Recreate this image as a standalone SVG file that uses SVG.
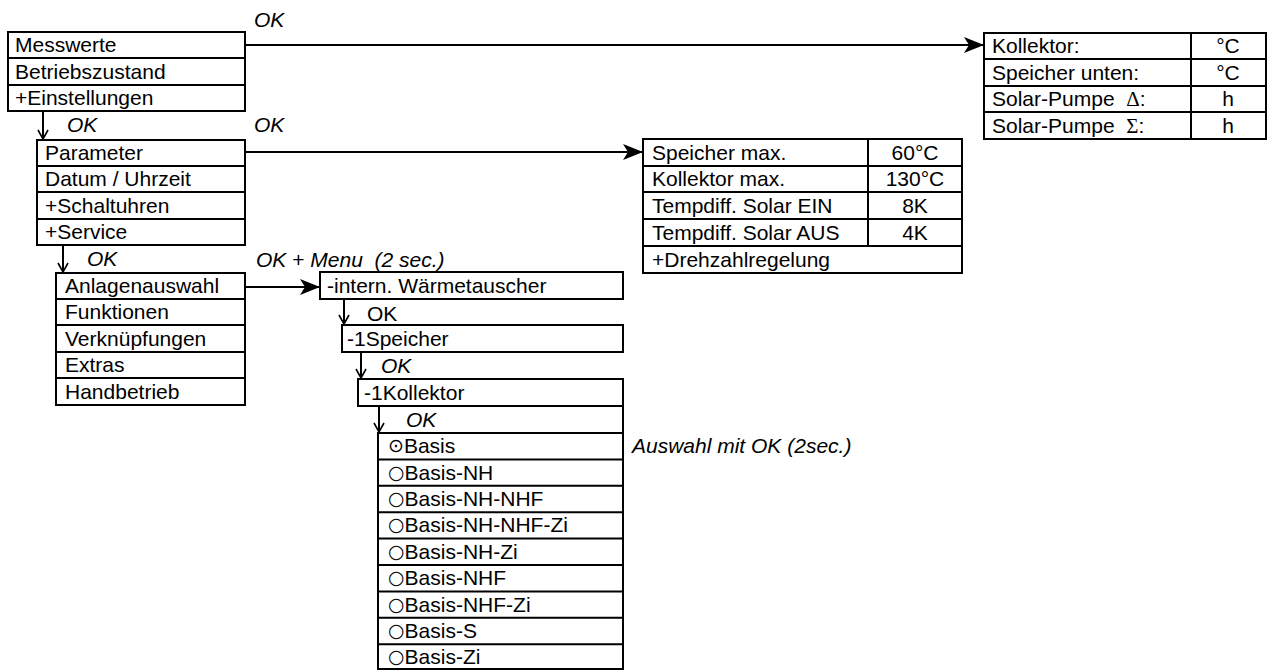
<svg xmlns="http://www.w3.org/2000/svg" width="1277" height="671" viewBox="0 0 1277 671">
<defs>
<style>
.b{fill:none;stroke:#000;stroke-width:2}
.l{stroke:#000;stroke-width:2;fill:none}
text{font-family:"Liberation Sans",Arial,sans-serif;font-size:21px;fill:#000}
.i{font-style:italic}
.c{text-anchor:middle}
.g{font-family:"Liberation Serif","DejaVu Serif",serif}
.s{font-family:"DejaVu Sans",sans-serif;font-size:19px}
</style>
<marker id="ah" viewBox="0 0 20 16" refX="20" refY="8" markerWidth="20" markerHeight="16" markerUnits="userSpaceOnUse" orient="auto">
<path d="M0,0 L20,8 L0,16 L5,8 Z" fill="#000"/>
</marker>
<marker id="dn" viewBox="0 0 12 12" refX="11" refY="6" markerWidth="12" markerHeight="12" markerUnits="userSpaceOnUse" orient="auto">
<path d="M2,1 L11,6 L2,11" fill="none" stroke="#000" stroke-width="1.6"/>
</marker>
</defs>
<rect width="1277" height="671" fill="#fff"/>

<g id="menu-main">
<rect class="b" x="8" y="32" width="237" height="79"/>
<line class="l" x1="8" y1="58" x2="245" y2="58"/>
<line class="l" x1="8" y1="85" x2="245" y2="85"/>
<text x="15" y="52">Messwerte</text>
<text x="15" y="79">Betriebszustand</text>
<text x="15" y="105">+Einstellungen</text>
</g>

<g id="menu-einstellungen">
<rect class="b" x="37" y="140" width="208" height="105"/>
<line class="l" x1="37" y1="166" x2="245" y2="166"/>
<line class="l" x1="37" y1="192" x2="245" y2="192"/>
<line class="l" x1="37" y1="219" x2="245" y2="219"/>
<text x="45" y="160">Parameter</text>
<text x="45" y="186">Datum / Uhrzeit</text>
<text x="45" y="213">+Schaltuhren</text>
<text x="45" y="239">+Service</text>
</g>

<g id="menu-service">
<rect class="b" x="56" y="273" width="189" height="132"/>
<line class="l" x1="56" y1="299" x2="245" y2="299"/>
<line class="l" x1="56" y1="325" x2="245" y2="325"/>
<line class="l" x1="56" y1="352" x2="245" y2="352"/>
<line class="l" x1="56" y1="378" x2="245" y2="378"/>
<text x="65" y="293">Anlagenauswahl</text>
<text x="65" y="319">Funktionen</text>
<text x="65" y="346">Verknüpfungen</text>
<text x="65" y="372">Extras</text>
<text x="65" y="399">Handbetrieb</text>
</g>

<g id="table-messwerte">
<rect class="b" x="984" y="33" width="282" height="106"/>
<line class="l" x1="984" y1="59" x2="1266" y2="59"/>
<line class="l" x1="984" y1="86" x2="1266" y2="86"/>
<line class="l" x1="984" y1="112" x2="1266" y2="112"/>
<line class="l" x1="1191" y1="33" x2="1191" y2="139"/>
<text x="992" y="53">Kollektor:</text>
<text x="992" y="80">Speicher unten:</text>
<text x="992" y="106">Solar-Pumpe&#160;&#160;<tspan class="g">Δ</tspan>:</text>
<text x="992" y="133">Solar-Pumpe&#160;&#160;<tspan class="g">Σ</tspan>:</text>
<text class="c" x="1228" y="53">°C</text>
<text class="c" x="1228" y="80">°C</text>
<text class="c" x="1228" y="106">h</text>
<text class="c" x="1228" y="133">h</text>
</g>

<g id="table-parameter">
<rect class="b" x="643" y="139" width="319" height="134"/>
<line class="l" x1="643" y1="166" x2="962" y2="166"/>
<line class="l" x1="643" y1="192" x2="962" y2="192"/>
<line class="l" x1="643" y1="219" x2="962" y2="219"/>
<line class="l" x1="643" y1="246" x2="962" y2="246"/>
<line class="l" x1="868" y1="139" x2="868" y2="246"/>
<text x="652" y="160">Speicher max.</text>
<text x="652" y="186">Kollektor max.</text>
<text x="652" y="213">Tempdiff. Solar EIN</text>
<text x="652" y="240">Tempdiff. Solar AUS</text>
<text x="652" y="267">+Drehzahlregelung</text>
<text class="c" x="915" y="160">60°C</text>
<text class="c" x="915" y="186">130°C</text>
<text class="c" x="915" y="213">8K</text>
<text class="c" x="915" y="240">4K</text>
</g>

<g id="box-waermetauscher">
<rect class="b" x="320" y="272" width="303" height="27"/>
<text x="327" y="293">-intern. Wärmetauscher</text>
</g>

<g id="box-speicher">
<rect class="b" x="342" y="325" width="281" height="27"/>
<text x="347" y="346">-1Speicher</text>
</g>

<g id="box-kollektor">
<rect class="b" x="358" y="379" width="265" height="27"/>
<line class="l" x1="623" y1="406" x2="623" y2="433"/>
<text x="364" y="400">-1Kollektor</text>
</g>

<g id="list-anlagen">
<rect class="b" x="378" y="433" width="245" height="236"/>
<line class="l" x1="378" y1="459.4" x2="623" y2="459.4"/>
<line class="l" x1="378" y1="485.8" x2="623" y2="485.8"/>
<line class="l" x1="378" y1="512.2" x2="623" y2="512.2"/>
<line class="l" x1="378" y1="538.6" x2="623" y2="538.6"/>
<line class="l" x1="378" y1="565" x2="623" y2="565"/>
<line class="l" x1="378" y1="591.4" x2="623" y2="591.4"/>
<line class="l" x1="378" y1="617.8" x2="623" y2="617.8"/>
<line class="l" x1="378" y1="644.2" x2="623" y2="644.2"/>
<text x="388" y="453"><tspan class="s" dy="-1">⊙</tspan><tspan dy="1">Basis</tspan></text>
<text x="388" y="480"><tspan class="s" dy="-1">○</tspan><tspan dy="1">Basis-NH</tspan></text>
<text x="388" y="506"><tspan class="s" dy="-1">○</tspan><tspan dy="1">Basis-NH-NHF</tspan></text>
<text x="388" y="532"><tspan class="s" dy="-1">○</tspan><tspan dy="1">Basis-NH-NHF-Zi</tspan></text>
<text x="388" y="559"><tspan class="s" dy="-1">○</tspan><tspan dy="1">Basis-NH-Zi</tspan></text>
<text x="388" y="585"><tspan class="s" dy="-1">○</tspan><tspan dy="1">Basis-NHF</tspan></text>
<text x="388" y="612"><tspan class="s" dy="-1">○</tspan><tspan dy="1">Basis-NHF-Zi</tspan></text>
<text x="388" y="638"><tspan class="s" dy="-1">○</tspan><tspan dy="1">Basis-S</tspan></text>
<text x="388" y="664"><tspan class="s" dy="-1">○</tspan><tspan dy="1">Basis-Zi</tspan></text>
</g>

<g id="connectors">
<line class="l" x1="245" y1="45" x2="984" y2="45" marker-end="url(#ah)"/>
<line class="l" x1="245" y1="152" x2="643" y2="152" marker-end="url(#ah)"/>
<line class="l" x1="245" y1="287" x2="320" y2="287" marker-end="url(#ah)"/>
<line class="l" x1="43" y1="111" x2="43" y2="139" marker-end="url(#dn)"/>
<line class="l" x1="63" y1="245" x2="63" y2="272" marker-end="url(#dn)"/>
<line class="l" x1="344" y1="299" x2="344" y2="324" marker-end="url(#dn)"/>
<line class="l" x1="361" y1="352" x2="361" y2="378" marker-end="url(#dn)"/>
<line class="l" x1="379" y1="406" x2="379" y2="432" marker-end="url(#dn)"/>
</g>

<g id="labels">
<text class="i" x="254" y="27">OK</text>
<text class="i" x="67" y="132">OK</text>
<text class="i" x="254" y="132">OK</text>
<text class="i" x="87" y="266">OK</text>
<text x="256" y="267"><tspan class="i">OK</tspan> + <tspan class="i">Menu&#160;&#160;(2 sec.)</tspan></text>
<text x="367" y="321">OK</text>
<text class="i" x="381" y="373">OK</text>
<text class="i" x="406" y="427">OK</text>
<text class="i" x="632" y="453">Auswahl mit OK (2sec.)</text>
</g>
</svg>
